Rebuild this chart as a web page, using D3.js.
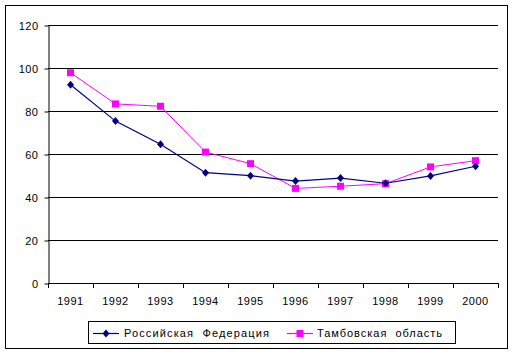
<!DOCTYPE html>
<html>
<head>
<meta charset="utf-8">
<script src="https://cdn.jsdelivr.net/npm/d3@7"></script>
<style>
  body { margin: 0; background: #fff; }
  text { font-family: "Liberation Sans", Arial, sans-serif; font-size: 11px; fill: #000; }
</style>
</head>
<body>
<svg id="chart" width="514" height="354"></svg>
<script>
// chart data
const years = ['1991', '1992', '1993', '1994', '1995', '1996', '1997', '1998', '1999', '2000'];
const russia = [92.2, 75.3, 64.5, 51.3, 49.9, 47.4, 48.8, 46.4, 49.8, 54.3];
const tambov = [97.8, 83.3, 82.2, 60.9, 55.5, 44.0, 45.0, 46.2, 54.0, 56.9];
const yTicks = [0, 20, 40, 60, 80, 100, 120];
const seriesNames = ['Российская  Федерация', 'Тамбовская  область'];

const svg = d3.select('#chart');
const plot = { left: 48, right: 498, top: 25, bottom: 283 };

// outer frame
svg.append('rect')
    .attr('x', 5.5).attr('y', 5.5)
    .attr('width', 502).attr('height', 343)
    .attr('fill', 'none').attr('stroke', '#000').attr('stroke-width', 1);

const x = d3.scaleBand().domain(years).range([plot.left, plot.right]);
const y = d3.scaleLinear().domain([0, 120]).range([plot.bottom, plot.top]);

// gridlines
svg.append('g')
    .selectAll('line')
    .data(yTicks.filter(d => d > 0))
    .join('line')
    .attr('x1', plot.left).attr('x2', plot.right)
    .attr('y1', d => Math.round(y(d)) + 0.5).attr('y2', d => Math.round(y(d)) + 0.5)
    .attr('stroke', '#000');

// y axis
const yAxis = svg.append('g')
    .attr('transform', `translate(${plot.left + 0.5},0.5)`)
    .call(d3.axisLeft(y).tickValues(yTicks).tickSize(4).tickPadding(6).tickSizeOuter(0));
yAxis.select('.domain').attr('stroke', '#000');
yAxis.selectAll('text').style('letter-spacing', '0.5px');

// x axis with ticks at band edges
const xg = svg.append('g');
xg.append('line')
    .attr('x1', plot.left).attr('x2', plot.right + 1)
    .attr('y1', plot.bottom + 0.5).attr('y2', plot.bottom + 0.5)
    .attr('stroke', '#000');
xg.selectAll('.tick')
    .data(years.concat(['end']))
    .join('line')
    .attr('x1', d => (d === 'end' ? plot.right : x(d)) + 0.5)
    .attr('x2', d => (d === 'end' ? plot.right : x(d)) + 0.5)
    .attr('y1', plot.bottom).attr('y2', plot.bottom + 5)
    .attr('stroke', '#000');
xg.selectAll('text')
    .data(years)
    .join('text')
    .attr('x', d => x(d) + x.bandwidth() / 2)
    .attr('y', plot.bottom + 22)
    .attr('text-anchor', 'middle')
    .style('letter-spacing', '0.5px')
    .text(d => d);

const line = d3.line()
    .x((d, i) => x(years[i]) + x.bandwidth() / 2)
    .y(d => y(d));

const navy = '#000080';
const magenta = '#ff00ff';

function diamond(g, cx, cy, color) {
    g.append('path')
        .attr('d', `M${cx},${cy - 4}L${cx + 3.5},${cy}L${cx},${cy + 4}L${cx - 3.5},${cy}Z`)
        .attr('fill', color);
}
function square(g, cx, cy, color) {
    g.append('rect')
        .attr('x', cx - 3.5).attr('y', cy - 3.5)
        .attr('width', 7).attr('height', 7)
        .attr('fill', color);
}

// Tambov series
svg.append('path').datum(tambov)
    .attr('d', line).attr('fill', 'none')
    .attr('stroke', magenta).attr('stroke-width', 1);
const tg = svg.append('g');
tambov.forEach((v, i) => square(tg, x(years[i]) + x.bandwidth() / 2, y(v), magenta));

// Russia series
svg.append('path').datum(russia)
    .attr('d', line).attr('fill', 'none')
    .attr('stroke', navy).attr('stroke-width', 1.2);
const rg = svg.append('g');
russia.forEach((v, i) => diamond(rg, x(years[i]) + x.bandwidth() / 2, y(v), navy));

// legend
const lg = svg.append('g');
lg.append('rect')
    .attr('x', 88.5).attr('y', 321.5)
    .attr('width', 367).attr('height', 22)
    .attr('fill', '#fff').attr('stroke', '#000');
const ly = 333;
const legendItems = [
    { name: seriesNames[0], color: navy, x0: 93, tx: 124, w: 145, mark: diamond },
    { name: seriesNames[1], color: magenta, x0: 287, tx: 317, w: 125, mark: square }
];
legendItems.forEach(it => {
    lg.append('line')
        .attr('x1', it.x0).attr('x2', it.x0 + 26)
        .attr('y1', ly + 0.5).attr('y2', ly + 0.5)
        .attr('stroke', it.color).attr('stroke-width', 1.2);
    it.mark(lg, it.x0 + 13, ly + 0.5, it.color);
    lg.append('text')
        .attr('x', it.tx).attr('y', ly + 4)
        .attr('textLength', it.w)
        .attr('lengthAdjust', 'spacing')
        .style('white-space', 'pre')
        .text(it.name);
});
</script>
</body>
</html>
